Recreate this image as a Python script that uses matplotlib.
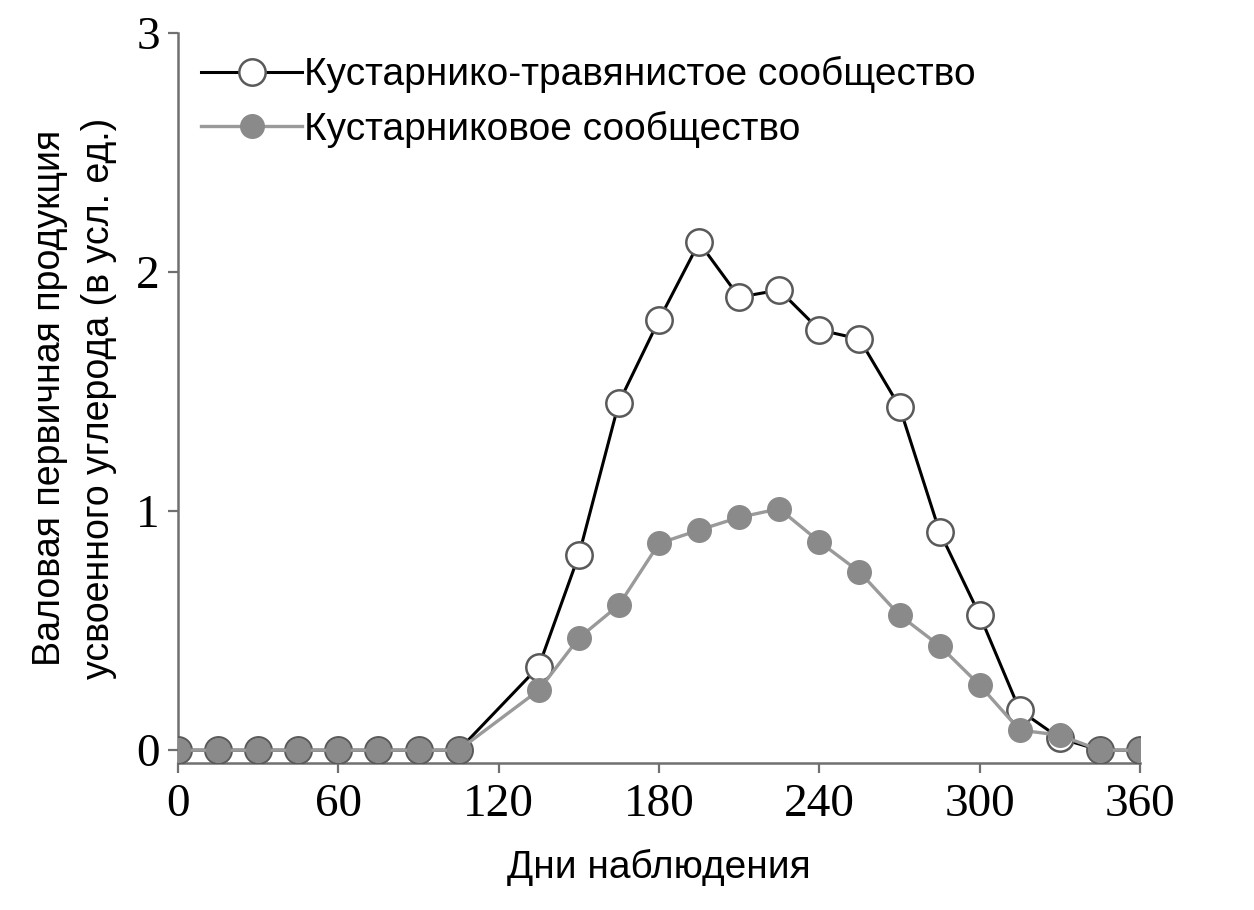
import matplotlib
matplotlib.use("Agg")
import matplotlib.pyplot as plt

days = [0, 15, 30, 45, 60, 75, 90, 105, 135, 150, 165, 180, 195, 210, 225,
        240, 255, 270, 285, 300, 315, 330, 345, 360]
shrub_grass = [0, 0, 0, 0, 0, 0, 0, 0, 0.35, 0.816, 1.454, 1.80, 2.124, 1.895,
               1.925, 1.758, 1.72, 1.437, 0.914, 0.565, 0.167, 0.05, 0, 0]
shrub = [0, 0, 0, 0, 0, 0, 0, 0, 0.251, 0.469, 0.607, 0.865, 0.921, 0.974,
         1.01, 0.872, 0.746, 0.565, 0.437, 0.272, 0.084, 0.063, 0, 0]
x_ticks = [0, 60, 120, 180, 240, 300, 360]
y_ticks = [0, 1, 2, 3]
label_grass = "Кустарнико-травянистое сообщество"
label_shrub = "Кустарниковое сообщество"
xlabel = "Дни наблюдения"
ylabel = "Валовая первичная продукция\nусвоенного углерода (в усл. ед.)"

sans = ["Liberation Sans", "DejaVu Sans"]
serif = ["Liberation Serif", "DejaVu Serif"]

fig = plt.figure(figsize=(12.54, 9.10), dpi=100)
ax = fig.add_axes([178 / 1254, 1 - 763 / 910, (1140 - 178) / 1254, (763 - 33) / 910])

ax.plot(days, shrub_grass, color="black", lw=2.2, marker="o", ms=19,
        markerfacecolor="white", markeredgecolor="#5a5a5a", markeredgewidth=1.8,
        label=label_grass, zorder=3)
ax.plot(days, shrub, color="#9a9a9a", lw=2.4, marker="o", ms=18,
        markerfacecolor="#8a8a8a", markeredgecolor="#8a8a8a", markeredgewidth=0,
        label=label_shrub, zorder=4)

ax.set_xlim(0, 360)
ax.set_ylim(-0.0535, 3)
ax.set_xticks(x_ticks)
ax.set_yticks(y_ticks)
for s in ["top", "right"]:
    ax.spines[s].set_visible(False)
for s in ["left", "bottom"]:
    ax.spines[s].set_color("#707070")
    ax.spines[s].set_linewidth(1.8)
ax.tick_params(direction="out", length=7, width=1.6, color="#707070",
               labelsize=34, pad=6)
ax.tick_params(axis="x", pad=8)
for lab in ax.get_xticklabels() + ax.get_yticklabels():
    lab.set_family(serif)

ax.set_xlabel(xlabel, family=sans, fontsize=28, labelpad=16)
ax.set_ylabel(ylabel, family=sans, fontsize=27, labelpad=14, linespacing=1.45)

leg = ax.legend(loc="upper left", bbox_to_anchor=(0.0, 1.0), frameon=False,
                prop={"family": sans, "size": 28}, handlelength=2.6,
                handletextpad=0.05, borderaxespad=0.2, labelspacing=0.45)

fig.savefig("out.png", dpi=100, facecolor="white")
